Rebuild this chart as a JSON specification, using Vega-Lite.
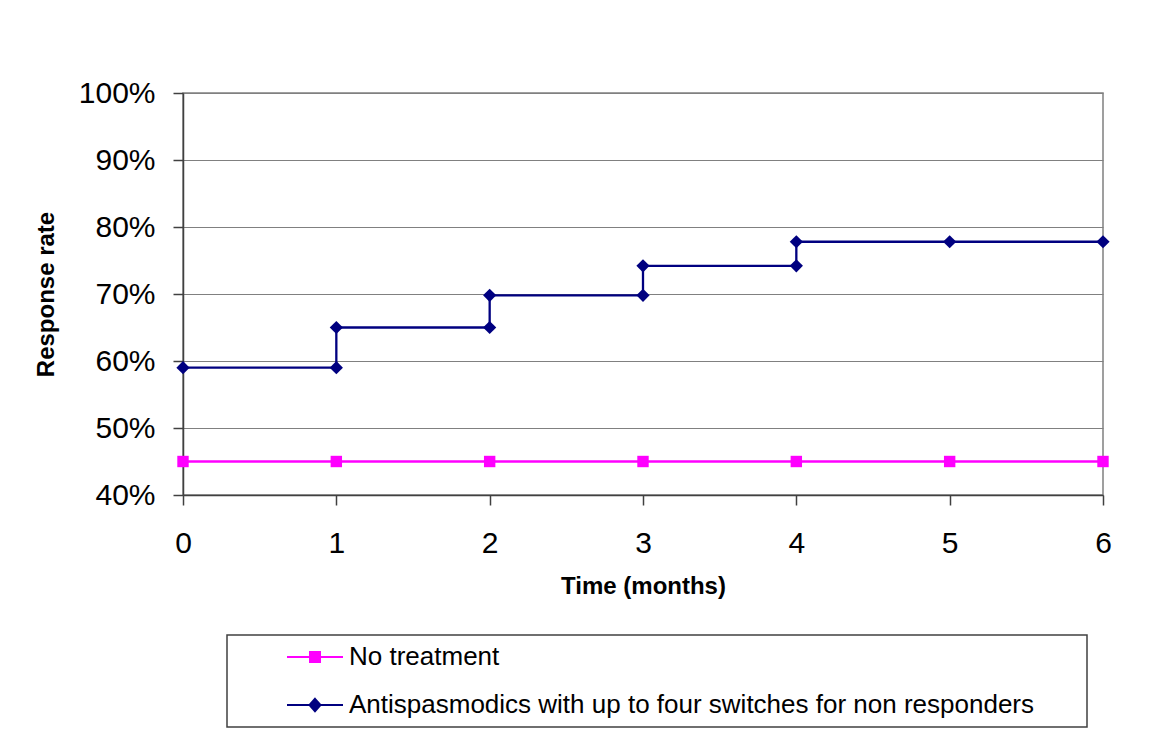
{
  "$schema": "https://vega.github.io/schema/vega-lite/v6.json",
  "width": 920,
  "height": 402,
  "autosize": {"type": "none"},
  "padding": {"left": 183, "top": 93, "right": 51, "bottom": 250},
  "background": "white",
  "config": {
    "font": "Liberation Sans",
    "view": {"stroke": "#808080", "strokeWidth": 1.5},
    "axis": {"labelFont": "Liberation Sans", "titleFont": "Liberation Sans", "labelColor": "black", "titleColor": "black"}
  },
  "data": {
    "values": [
      {"series": "No treatment", "t": 0, "rate": 0.45, "i": 0},
      {"series": "No treatment", "t": 1, "rate": 0.45, "i": 1},
      {"series": "No treatment", "t": 2, "rate": 0.45, "i": 2},
      {"series": "No treatment", "t": 3, "rate": 0.45, "i": 3},
      {"series": "No treatment", "t": 4, "rate": 0.45, "i": 4},
      {"series": "No treatment", "t": 5, "rate": 0.45, "i": 5},
      {"series": "No treatment", "t": 6, "rate": 0.45, "i": 6},
      {"series": "Antispasmodics with up to four switches for non responders", "t": 0, "rate": 0.59, "i": 0},
      {"series": "Antispasmodics with up to four switches for non responders", "t": 1, "rate": 0.59, "i": 1},
      {"series": "Antispasmodics with up to four switches for non responders", "t": 1, "rate": 0.65, "i": 2},
      {"series": "Antispasmodics with up to four switches for non responders", "t": 2, "rate": 0.65, "i": 3},
      {"series": "Antispasmodics with up to four switches for non responders", "t": 2, "rate": 0.698, "i": 4},
      {"series": "Antispasmodics with up to four switches for non responders", "t": 3, "rate": 0.698, "i": 5},
      {"series": "Antispasmodics with up to four switches for non responders", "t": 3, "rate": 0.742, "i": 6},
      {"series": "Antispasmodics with up to four switches for non responders", "t": 4, "rate": 0.742, "i": 7},
      {"series": "Antispasmodics with up to four switches for non responders", "t": 4, "rate": 0.778, "i": 8},
      {"series": "Antispasmodics with up to four switches for non responders", "t": 5, "rate": 0.778, "i": 9},
      {"series": "Antispasmodics with up to four switches for non responders", "t": 6, "rate": 0.778, "i": 10}
    ]
  },
  "encoding": {
    "x": {
      "field": "t", "type": "quantitative",
      "scale": {"domain": [0, 6], "nice": false, "zero": false},
      "axis": {
        "title": "Time (months)", "values": [0, 1, 2, 3, 4, 5, 6], "format": "d", "grid": false,
        "domainColor": "#404040", "domainWidth": 1.5, "tickColor": "#404040", "tickWidth": 1.5, "tickSize": 10,
        "labelFontSize": 30, "labelBaseline": "alphabetic", "labelPadding": 47, "labelFlush": false,
        "titleFontSize": 24, "titleFontWeight": "bold", "titleBaseline": "alphabetic", "titleY": 98
      }
    },
    "y": {
      "field": "rate", "type": "quantitative",
      "scale": {"domain": [0.4, 1.0], "nice": false, "zero": false},
      "axis": {
        "title": "Response rate", "values": [0.4, 0.5, 0.6, 0.7, 0.8, 0.9, 1.0], "format": ".0%",
        "grid": true, "gridColor": "#808080", "gridWidth": 1.2,
        "domainColor": "#404040", "domainWidth": 1.5, "tickColor": "#404040", "tickWidth": 1.5, "tickSize": 10,
        "labelFontSize": 30, "labelPadding": 18, "labelBaseline": "middle", "labelFlush": false,
        "titleFontSize": 24, "titleFontWeight": "bold", "titleX": -137, "titleY": 201,
        "titleAngle": -90, "titleBaseline": "middle", "titleAlign": "center"
      }
    },
    "color": {
      "field": "series", "type": "nominal",
      "scale": {
        "domain": ["No treatment", "Antispasmodics with up to four switches for non responders"],
        "range": ["#FF00FF", "#000080"]
      },
      "legend": {
        "title": null, "orient": "none", "legendX": 44, "legendY": 542,
        "padding": 9, "strokeColor": "#404040", "fillColor": "white",
        "labelFontSize": 26, "labelFont": "Liberation Sans", "labelColor": "black", "labelLimit": 2000,
        "symbolSize": 400, "symbolOffset": 66, "labelOffset": 21, "rowPadding": 22,
        "encode": {
          "legend": {"update": {"strokeWidth": {"value": 1.5}}},
          "symbols": {
            "update": {
              "shape": {"signal": "datum.value === 'No treatment' ? 'M-2.8,0L2.8,0M-0.5,-0.5L0.5,-0.5L0.5,0.5L-0.5,0.5ZM75.9,0' : 'M-2.8,0L2.8,0M0,-0.62L0.55,0L0,0.62L-0.55,0ZM75.9,0'"},
              "fill": {"signal": "datum.value === 'No treatment' ? '#FF00FF' : '#000080'"},
              "stroke": {"signal": "datum.value === 'No treatment' ? '#FF00FF' : '#000080'"},
              "strokeWidth": {"value": 2},
              "opacity": {"value": 1},
              "fillOpacity": {"value": 1}
            }
          }
        }
      }
    }
  },
  "layer": [
    {
      "mark": {"type": "line", "strokeWidth": 2.3},
      "encoding": {"order": {"field": "i", "type": "quantitative"}, "detail": {"field": "series"}}
    },
    {
      "mark": {"type": "point", "filled": true, "opacity": 1, "clip": false},
      "encoding": {
        "shape": {"condition": {"test": "datum.series === 'No treatment'", "value": "square"}, "value": "diamond"},
        "size": {"condition": {"test": "datum.series === 'No treatment'", "value": 130}, "value": 175}
      }
    }
  ]
}
